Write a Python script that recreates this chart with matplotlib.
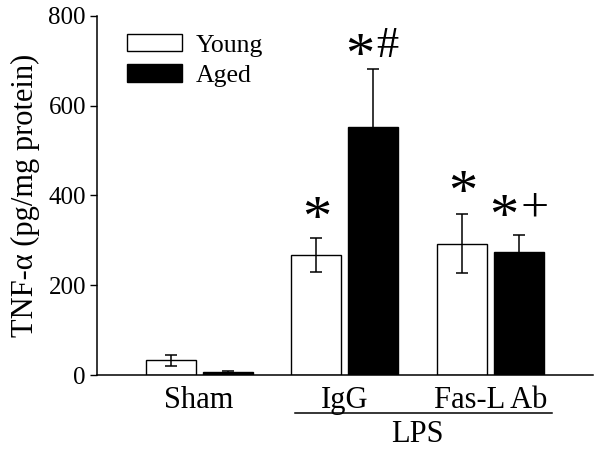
import numpy as np
import matplotlib
matplotlib.use('Agg')
import matplotlib.pyplot as plt
from matplotlib.patches import Patch

plt.rcParams['font.family'] = ['Liberation Serif', 'DejaVu Serif']

# Data
groups = ['Sham', 'IgG', 'Fas-L Ab']
young_mean = [33, 267, 293]
young_err = [12, 38, 66]
aged_mean = [6, 553, 275]
aged_err = [2, 128, 37]

# significance marks: star shown over bar, extra symbol next to it
young_star = [False, True, True]
young_star_y = [0, 372, 430]
aged_star = [False, True, True]
aged_star_y = [0, 735, 376]
aged_extra = ['', '#', '+']
aged_extra_y = [0, 733, 370]

x = np.arange(len(groups))
width = 0.343
offset = 0.195

fig = plt.figure(figsize=(6, 4.49), dpi=100)
ax = fig.add_axes([0.1617, 0.1648, 0.8263, 0.7996])

err_kw = dict(ecolor='black', elinewidth=1.1, capsize=4.5, capthick=1.1)
ax.bar(x - offset, young_mean, width, yerr=young_err, color='white',
       edgecolor='black', linewidth=1.0, error_kw=err_kw, label='Young')
ax.bar(x + offset, aged_mean, width, yerr=aged_err, color='black',
       edgecolor='black', linewidth=1.0, error_kw=err_kw, label='Aged')

# significance marks
star_size = 42
star_shift = 28   # asterisk glyph sits high in its text box
for i in range(len(groups)):
    if young_star[i]:
        ax.text(x[i] - offset, young_star_y[i] - star_shift, '*', ha='center',
                va='center', fontsize=star_size)
    if aged_star[i] and aged_extra[i]:
        sep = 10 if aged_extra[i] == '#' else 11
        ax.annotate('*', (x[i] + offset, aged_star_y[i] - star_shift),
                    xytext=(-sep, 0), textcoords='offset points',
                    ha='center', va='center', fontsize=star_size)
        extra_size = 32 if aged_extra[i] == '#' else 36
        ax.annotate(aged_extra[i], (x[i] + offset, aged_extra_y[i]),
                    xytext=(sep, 0), textcoords='offset points',
                    ha='center', va='center', fontsize=extra_size)

ax.set_xlim(-0.7, 2.7)
ax.set_ylim(0, 800)
ax.set_yticks([0, 200, 400, 600, 800])
ax.set_xticks(x)
ax.set_xticklabels(groups)
ax.tick_params(axis='y', direction='out', length=5, width=1, labelsize=18, pad=3)
ax.tick_params(axis='x', length=0, labelsize=22, pad=8)
ax.spines['top'].set_visible(False)
ax.spines['right'].set_visible(False)
ax.spines['left'].set_linewidth(1.1)
ax.spines['bottom'].set_linewidth(1.1)
ax.set_ylabel('TNF-α (pg/mg protein)', fontsize=22, labelpad=6)

# LPS bracket under IgG and Fas-L Ab
trans = ax.get_xaxis_transform()
ax.plot([0.658, 2.418], [-0.106, -0.106], color='black', lw=1.1,
        transform=trans, clip_on=False)
ax.text(1.5, -0.165, 'LPS', transform=trans, ha='center', va='center',
        fontsize=22)

handles = [Patch(facecolor='white', edgecolor='black', label='Young'),
           Patch(facecolor='black', edgecolor='black', label='Aged')]
ax.legend(handles=handles, loc='upper left', bbox_to_anchor=(0.06, 0.95),
          frameon=False, fontsize=18.5, handlelength=2.15, handleheight=0.66,
          handletextpad=0.55, labelspacing=0.3, borderpad=0, borderaxespad=0)

plt.savefig('out.png', dpi=100)
